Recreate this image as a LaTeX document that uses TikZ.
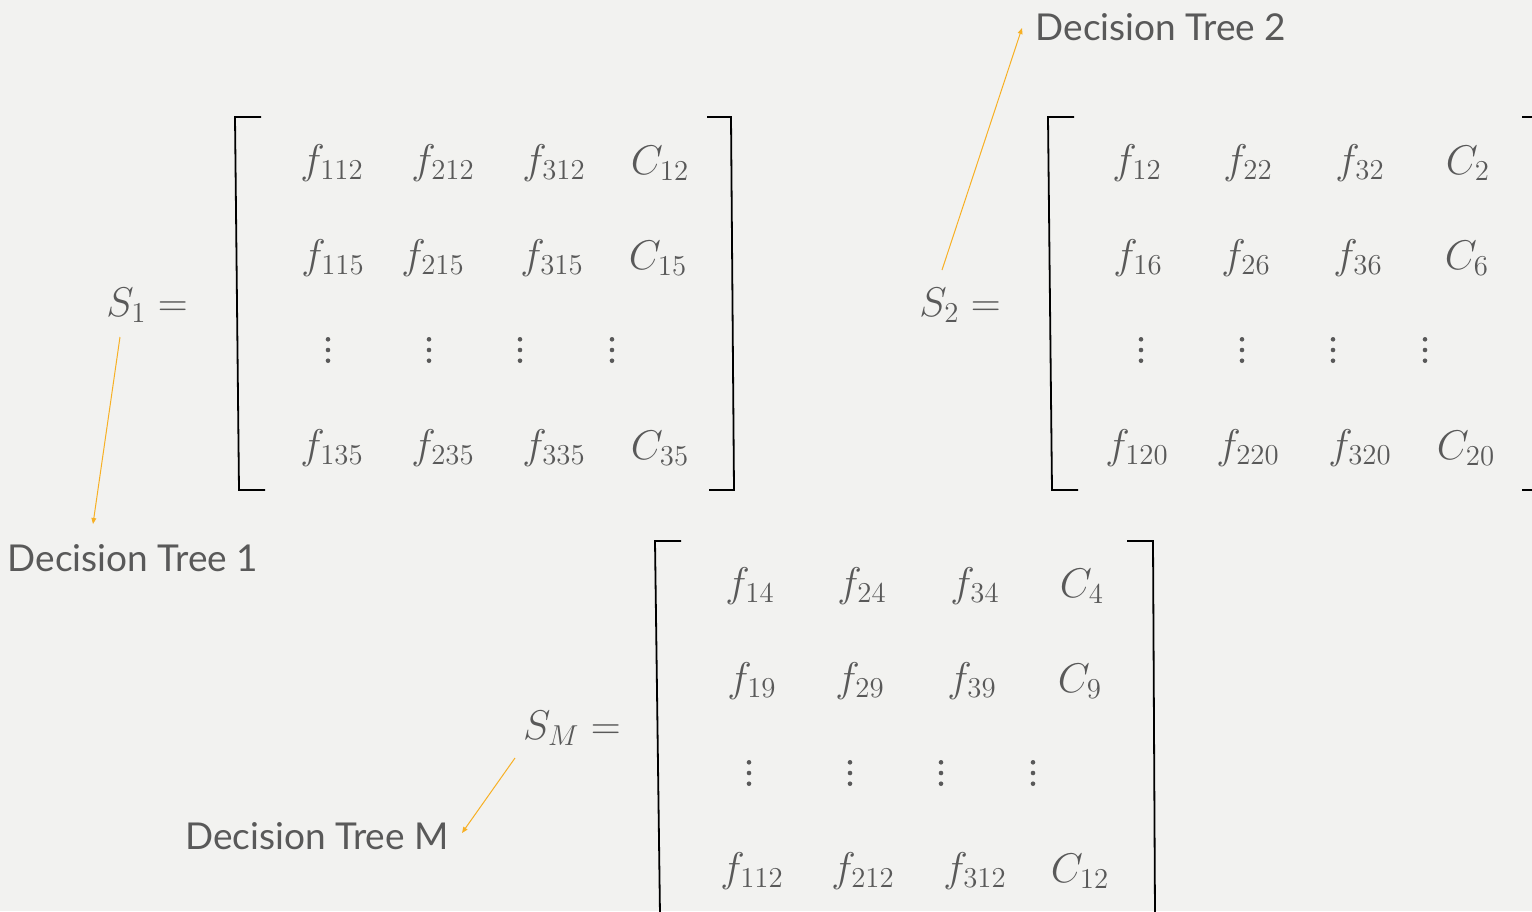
\documentclass[tikz,border=0pt]{standalone}
\usepackage[no-math]{fontspec}
\newfontfamily\labelfont{Lato}
\usetikzlibrary{arrows.meta}
\definecolor{bgc}{RGB}{242,242,240}
\definecolor{txt}{RGB}{89,89,89}
\definecolor{arrc}{RGB}{247,176,36}
\tikzset{
  mt/.style={text=txt,inner sep=0pt,font=\fontsize{21}{25}\selectfont},
  lbl/.style={text=txt,inner sep=0pt,font=\labelfont\fontsize{18.5}{22}\selectfont},
  brk/.style={draw=black,line width=0.9pt},
  arr/.style={draw=arrc,line width=0.5pt,-{Triangle[length=3pt,width=2.4pt]}},
  vdot/.style={fill=txt}
}
\newcommand{\vdotcol}[2]{%
  \fill[vdot] (#1,#2-10.7) circle[radius=1.15pt];
  \fill[vdot] (#1,#2) circle[radius=1.15pt];
  \fill[vdot] (#1,#2+10.7) circle[radius=1.15pt];}
\begin{document}
\begin{tikzpicture}[x=0.5pt,y=-0.5pt]
\fill[bgc] (0,0) rectangle (1532,911);
\useasboundingbox (0,0) rectangle (1532,911);

% ---------- Matrix S1 ----------
\node[mt] (s1) at (147,305) {$S_1 =$};
\draw[brk] (261,117) -- (235,117) -- (239,490) -- (265,490);
\draw[brk] (707,117) -- (731,117) -- (734,490) -- (709,490);
\node[mt] (a11) at (332,163) {$f_{112}$};
\node[mt] (a12) at (443,163) {$f_{212}$};
\node[mt] (a13) at (554,163) {$f_{312}$};
\node[mt] (a14) at (660,163) {$C_{12}$};
\node[mt] (a21) at (333,258) {$f_{115}$};
\node[mt] (a22) at (433,258) {$f_{215}$};
\node[mt] (a23) at (552,258) {$f_{315}$};
\node[mt] (a24) at (658,258) {$C_{15}$};
\vdotcol{328}{350}
\vdotcol{429}{350}
\vdotcol{520}{350}
\vdotcol{612}{350}
\node[mt] (a41) at (332,448) {$f_{135}$};
\node[mt] (a42) at (443,448) {$f_{235}$};
\node[mt] (a43) at (554,448) {$f_{335}$};
\node[mt] (a44) at (660,448) {$C_{35}$};

\node[lbl] (dt1) at (133,558) {Decision Tree 1};
\coordinate (s1a) at (120,337);
\coordinate (dt1a) at (93,524);
\draw[arr] (s1a) -- (dt1a);

% ---------- Matrix S2 ----------
\node[mt] (s2) at (960,305) {$S_2 =$};
\draw[brk] (1074,117) -- (1048,117) -- (1052,490) -- (1078,490);
\draw[brk] (1522,117) -- (1540,117);
\draw[brk] (1522,490) -- (1540,490);
\node[mt] (b11) at (1137,163) {$f_{12}$};
\node[mt] (b12) at (1248,163) {$f_{22}$};
\node[mt] (b13) at (1360,163) {$f_{32}$};
\node[mt] (b14) at (1468,163) {$C_{2}$};
\node[mt] (b21) at (1138,258) {$f_{16}$};
\node[mt] (b22) at (1246,258) {$f_{26}$};
\node[mt] (b23) at (1358,258) {$f_{36}$};
\node[mt] (b24) at (1467,258) {$C_{6}$};
\vdotcol{1141}{350}
\vdotcol{1242}{350}
\vdotcol{1333}{350}
\vdotcol{1425}{350}
\node[mt] (b41) at (1137,448) {$f_{120}$};
\node[mt] (b42) at (1248,448) {$f_{220}$};
\node[mt] (b43) at (1360,448) {$f_{320}$};
\node[mt] (b44) at (1466,448) {$C_{20}$};

\node[lbl] (dt2) at (1161,27) {Decision Tree 2};
\coordinate (s2a) at (942,270);
\coordinate (dt2a) at (1022,28);
\draw[arr] (s2a) -- (dt2a);

% ---------- Matrix SM ----------
\node[mt] (sm) at (572,728) {$S_M =$};
\draw[brk] (681,541) -- (655,541) -- (660,915);
\draw[brk] (1127,541) -- (1153,541) -- (1155,915);
\node[mt] (c11) at (750,586) {$f_{14}$};
\node[mt] (c12) at (862,586) {$f_{24}$};
\node[mt] (c13) at (975,586) {$f_{34}$};
\node[mt] (c14) at (1082,586) {$C_{4}$};
\node[mt] (c21) at (752,681) {$f_{19}$};
\node[mt] (c22) at (860,681) {$f_{29}$};
\node[mt] (c23) at (972,681) {$f_{39}$};
\node[mt] (c24) at (1080,681) {$C_{9}$};
\vdotcol{749}{773}
\vdotcol{850}{773}
\vdotcol{941}{773}
\vdotcol{1033}{773}
\node[mt] (c41) at (752,871) {$f_{112}$};
\node[mt] (c42) at (863,871) {$f_{212}$};
\node[mt] (c43) at (975,871) {$f_{312}$};
\node[mt] (c44) at (1080,871) {$C_{12}$};

\node[lbl] (dtm) at (317,836) {Decision Tree M};
\coordinate (sma) at (515,758);
\coordinate (dtma) at (462,833);
\draw[arr] (sma) -- (dtma);
\end{tikzpicture}
\end{document}
